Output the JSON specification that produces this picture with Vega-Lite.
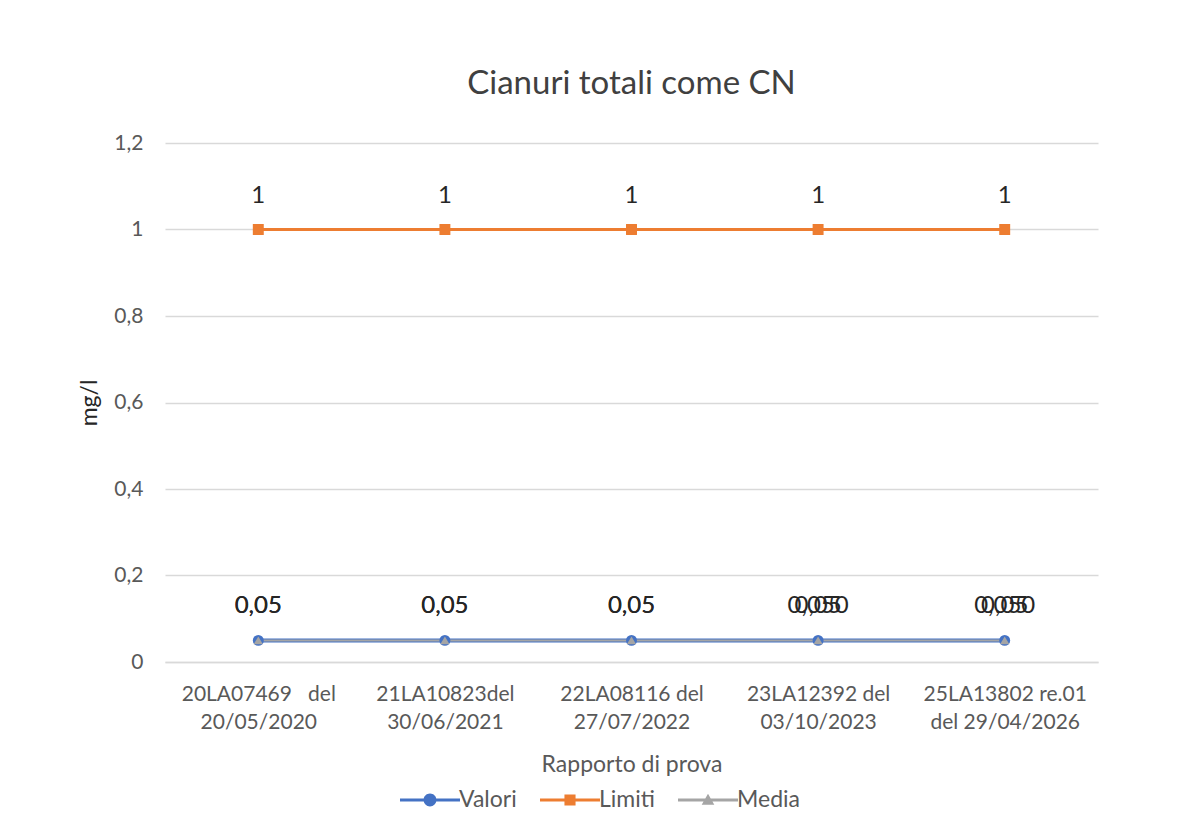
{
  "$schema": "https://vega.github.io/schema/vega-lite/v6.json",
  "width": 933,
  "height": 519,
  "autosize": {"type": "none"},
  "padding": {"left": 165, "top": 143, "right": 84, "bottom": 175},
  "background": "white",
  "config": {
    "font": "Lato",
    "view": {"stroke": null},
    "axis": {"labelFont": "Lato", "titleFont": "Lato", "labelColor": "#595959", "titleColor": "#595959", "titleFontWeight": "normal", "ticks": false, "gridColor": "#d9d9d9", "gridWidth": 1.3}
  },
  "title": {"text": "Cianuri totali come CN", "fontSize": 33, "fontWeight": "normal", "color": "#404040", "font": "Lato", "anchor": "middle", "offset": 31},
  "data": {"values": [
    {"rapporto": "20LA07469\u00a0\u00a0\u00a0del\n20/05/2020", "serie": "Valori", "valore": 0.05, "etichetta": "0,05"},
    {"rapporto": "21LA10823del\n30/06/2021", "serie": "Valori", "valore": 0.05, "etichetta": "0,05"},
    {"rapporto": "22LA08116 del\n27/07/2022", "serie": "Valori", "valore": 0.05, "etichetta": "0,05"},
    {"rapporto": "23LA12392 del\n03/10/2023", "serie": "Valori", "valore": 0.05, "etichetta": "0,05"},
    {"rapporto": "25LA13802 re.01\ndel 29/04/2026", "serie": "Valori", "valore": 0.05, "etichetta": "0,05"},
    {"rapporto": "20LA07469\u00a0\u00a0\u00a0del\n20/05/2020", "serie": "Limiti", "valore": 1, "etichetta": "1"},
    {"rapporto": "21LA10823del\n30/06/2021", "serie": "Limiti", "valore": 1, "etichetta": "1"},
    {"rapporto": "22LA08116 del\n27/07/2022", "serie": "Limiti", "valore": 1, "etichetta": "1"},
    {"rapporto": "23LA12392 del\n03/10/2023", "serie": "Limiti", "valore": 1, "etichetta": "1"},
    {"rapporto": "25LA13802 re.01\ndel 29/04/2026", "serie": "Limiti", "valore": 1, "etichetta": "1"},
    {"rapporto": "20LA07469\u00a0\u00a0\u00a0del\n20/05/2020", "serie": "Media", "valore": 0.05, "etichetta": "0,05"},
    {"rapporto": "21LA10823del\n30/06/2021", "serie": "Media", "valore": 0.05, "etichetta": "0,05"},
    {"rapporto": "22LA08116 del\n27/07/2022", "serie": "Media", "valore": 0.05, "etichetta": "0,05"},
    {"rapporto": "23LA12392 del\n03/10/2023", "serie": "Media", "valore": 0.05, "etichetta": "0,050"},
    {"rapporto": "25LA13802 re.01\ndel 29/04/2026", "serie": "Media", "valore": 0.05, "etichetta": "0,050"}
  ]},
  "encoding": {
    "x": {"field": "rapporto", "type": "ordinal", "sort": null, "axis": {"title": "Rapporto di prova", "labelAngle": 0, "labelFontSize": 21, "labelLineHeight": 28, "labelPadding": 21, "labelExpr": "split(datum.value, '\\n')", "titleFontSize": 23, "titlePadding": 21, "domainColor": "#d9d9d9", "domainWidth": 1.3, "grid": false}},
    "y": {"field": "valore", "type": "quantitative", "scale": {"domain": [0, 1.2]}, "axis": {"title": "mg/l", "values": [0, 0.2, 0.4, 0.6, 0.8, 1, 1.2], "labelExpr": "replace(format(datum.value, '~g'), '.', ',')", "labelFontSize": 21, "labelPadding": 22, "titleFontSize": 23, "titleColor": "#262626", "titlePadding": 12, "domain": false}}
  },
  "layer": [
    {"transform": [{"filter": "datum.serie == 'Valori'"}], "mark": {"type": "line", "color": "#4472C4", "strokeWidth": 4}, "encoding": {}},
    {"transform": [{"filter": "datum.serie == 'Limiti'"}], "mark": {"type": "line", "color": "#ED7D31", "strokeWidth": 3}, "encoding": {}},
    {"transform": [{"filter": "datum.serie == 'Media'"}], "mark": {"type": "line", "color": "#A5A5A5", "strokeWidth": 2}, "encoding": {}},
    {"transform": [{"filter": "datum.serie == 'Valori'"}], "mark": {"type": "point", "shape": "circle", "filled": true, "opacity": 1, "color": "#4472C4", "size": 120}},
    {"transform": [{"filter": "datum.serie == 'Limiti'"}], "mark": {"type": "point", "shape": "square", "filled": true, "opacity": 1, "color": "#ED7D31", "size": 120}},
    {"transform": [{"filter": "datum.serie == 'Media'"}], "mark": {"type": "point", "shape": "triangle-up", "filled": true, "opacity": 1, "color": "#A5A5A5", "size": 85}},
    {"mark": {"type": "text", "dy": -34, "fontSize": 24, "color": "#262626", "font": "Lato"}, "encoding": {"text": {"field": "etichetta"}}},
    {"mark": {"type": "point", "filled": true, "opacity": 0},
     "encoding": {
       "fill": {"field": "serie", "type": "nominal", "scale": {"domain": ["Valori", "Limiti", "Media"], "range": ["#4472C4", "#ED7D31", "#A5A5A5"]}, "legend": {"title": null, "orient": "none", "direction": "horizontal", "legendX": 250, "legendY": 642, "symbolSize": 900, "symbolOpacity": 1, "symbolStrokeWidth": 0, "labelOffset": 14, "columnPadding": 23, "labelFontSize": 23, "labelColor": "#595959", "labelFont": "Lato", "padding": 0}},
       "shape": {"field": "serie", "type": "nominal", "scale": {"domain": ["Valori", "Limiti", "Media"], "range": [
         "M-2,-0.1H2V0.1H-2Z M0.43,0A0.43,0.43 0 1 1 -0.43,0A0.43,0.43 0 1 1 0.43,0Z",
         "M-2,-0.1H2V0.1H-2Z M-0.37,-0.37H0.37V0.37H-0.37Z",
         "M-2,-0.1H2V0.1H-2Z M0,-0.42L0.42,0.32H-0.42Z"
       ]}, "legend": {"title": null, "orient": "none", "direction": "horizontal", "legendX": 250, "legendY": 642, "symbolSize": 900, "symbolOpacity": 1, "symbolStrokeWidth": 0, "labelOffset": 14, "columnPadding": 23, "labelFontSize": 23, "labelColor": "#595959", "labelFont": "Lato", "padding": 0}}
     }}
  ]
}
